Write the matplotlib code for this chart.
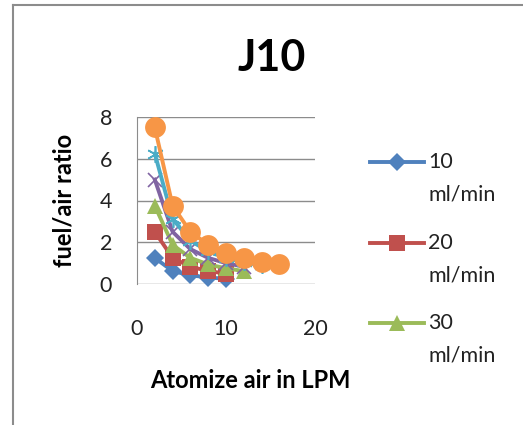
import matplotlib
matplotlib.use("Agg")
import matplotlib.pyplot as plt
from matplotlib.lines import Line2D

plt.rcParams['font.family'] = ['Lato', 'DejaVu Sans']

x_air = [2, 4, 6, 8, 10, 12, 14, 16]
series_names = ["10\nml/min", "20\nml/min", "30\nml/min", "40\nml/min", "50\nml/min", "60\nml/min"]
y10 = [1.25, 0.62, 0.42, 0.31, 0.25]
y20 = [2.5, 1.25, 0.83, 0.62, 0.5]
y30 = [3.75, 1.88, 1.25, 0.94, 0.75, 0.62]
y40 = [5.0, 2.5, 1.67, 1.25, 1.0, 0.83]
y50 = [6.25, 3.12, 2.08, 1.56, 1.25, 1.04, 0.89]
y60 = [7.5, 3.75, 2.5, 1.88, 1.5, 1.25, 1.07, 0.94]
series_vals = [y10, y20, y30, y40, y50, y60]
colors = ["#4F81BD", "#C0504D", "#9BBB59", "#8064A2", "#4BACC6", "#F79646"]
markers = ["D", "s", "^", "x", (6, 2, 0), "o"]
msizes = [9, 11, 12, 10, 12, 15]
xticks = [0, 10, 20]
yticks = [0, 2, 4, 6, 8]

W, H = 523, 425
fig = plt.figure(figsize=(W/100, H/100), dpi=100)
ax = fig.add_axes([137/W, 1-284/H, (315-137)/W, (284-117)/H])

for name, ys, c, m, ms in zip(series_names, series_vals, colors, markers, msizes):
    thin = (m == "x" or isinstance(m, tuple))
    ax.plot(x_air[:len(ys)], ys, color=c, marker=m, markersize=ms, linewidth=2.8,
            markeredgewidth=1.2 if thin else 0, label=name, clip_on=False, zorder=3)

ax.set_xlim(0, 20)
ax.set_ylim(0, 8)
ax.set_xticks(xticks)
ax.set_yticks(yticks)
ax.yaxis.grid(True, color="#8C8C8C", linewidth=1)
ax.set_axisbelow(True)
for s in ["top", "right", "bottom"]:
    ax.spines[s].set_visible(False)
ax.spines["left"].set_color("#8C8C8C")
ax.tick_params(axis="both", length=0, labelsize=15.5, colors="#222222")
ax.tick_params(axis="x", pad=25)
ax.tick_params(axis="y", pad=18)

ax.set_ylabel("fuel/air ratio", fontsize=17, fontweight="bold", labelpad=17)
ax.set_xlabel("Atomize air in LPM", fontsize=17, fontweight="bold", labelpad=22)
ax.xaxis.label.set_x((250 - 137) / (315 - 137))
fig.text(272/W, 1-58/H, "J10", fontsize=31, fontweight="bold", ha="center", va="center")

# legend (only the first three entries fit in the reference)
leg_y = [162, 243, 323]
for i in range(3):
    y = 1 - leg_y[i]/H
    fig.add_artist(Line2D([370/W, 397/W, 424/W], [y, y, y], color=colors[i], linewidth=2.8,
                          marker=markers[i], markersize=msizes[i], markeredgewidth=0,
                          markevery=[1]))
    first, second = series_names[i].split("\n")
    fig.text(428/W, y, first, fontsize=15.5, ha="left", va="center", color="#222222")
    fig.text(428/W, 1 - (leg_y[i] + 32)/H, second, fontsize=15.5, ha="left", va="center",
             color="#222222")

fig.add_artist(Line2D([13/W, 13/W], [0, 1-5/H], color="#8C8C8C", linewidth=1.5))
fig.add_artist(Line2D([13/W, 1], [1-5/H, 1-5/H], color="#8C8C8C", linewidth=1.5))

fig.savefig("out.png", dpi=100)
